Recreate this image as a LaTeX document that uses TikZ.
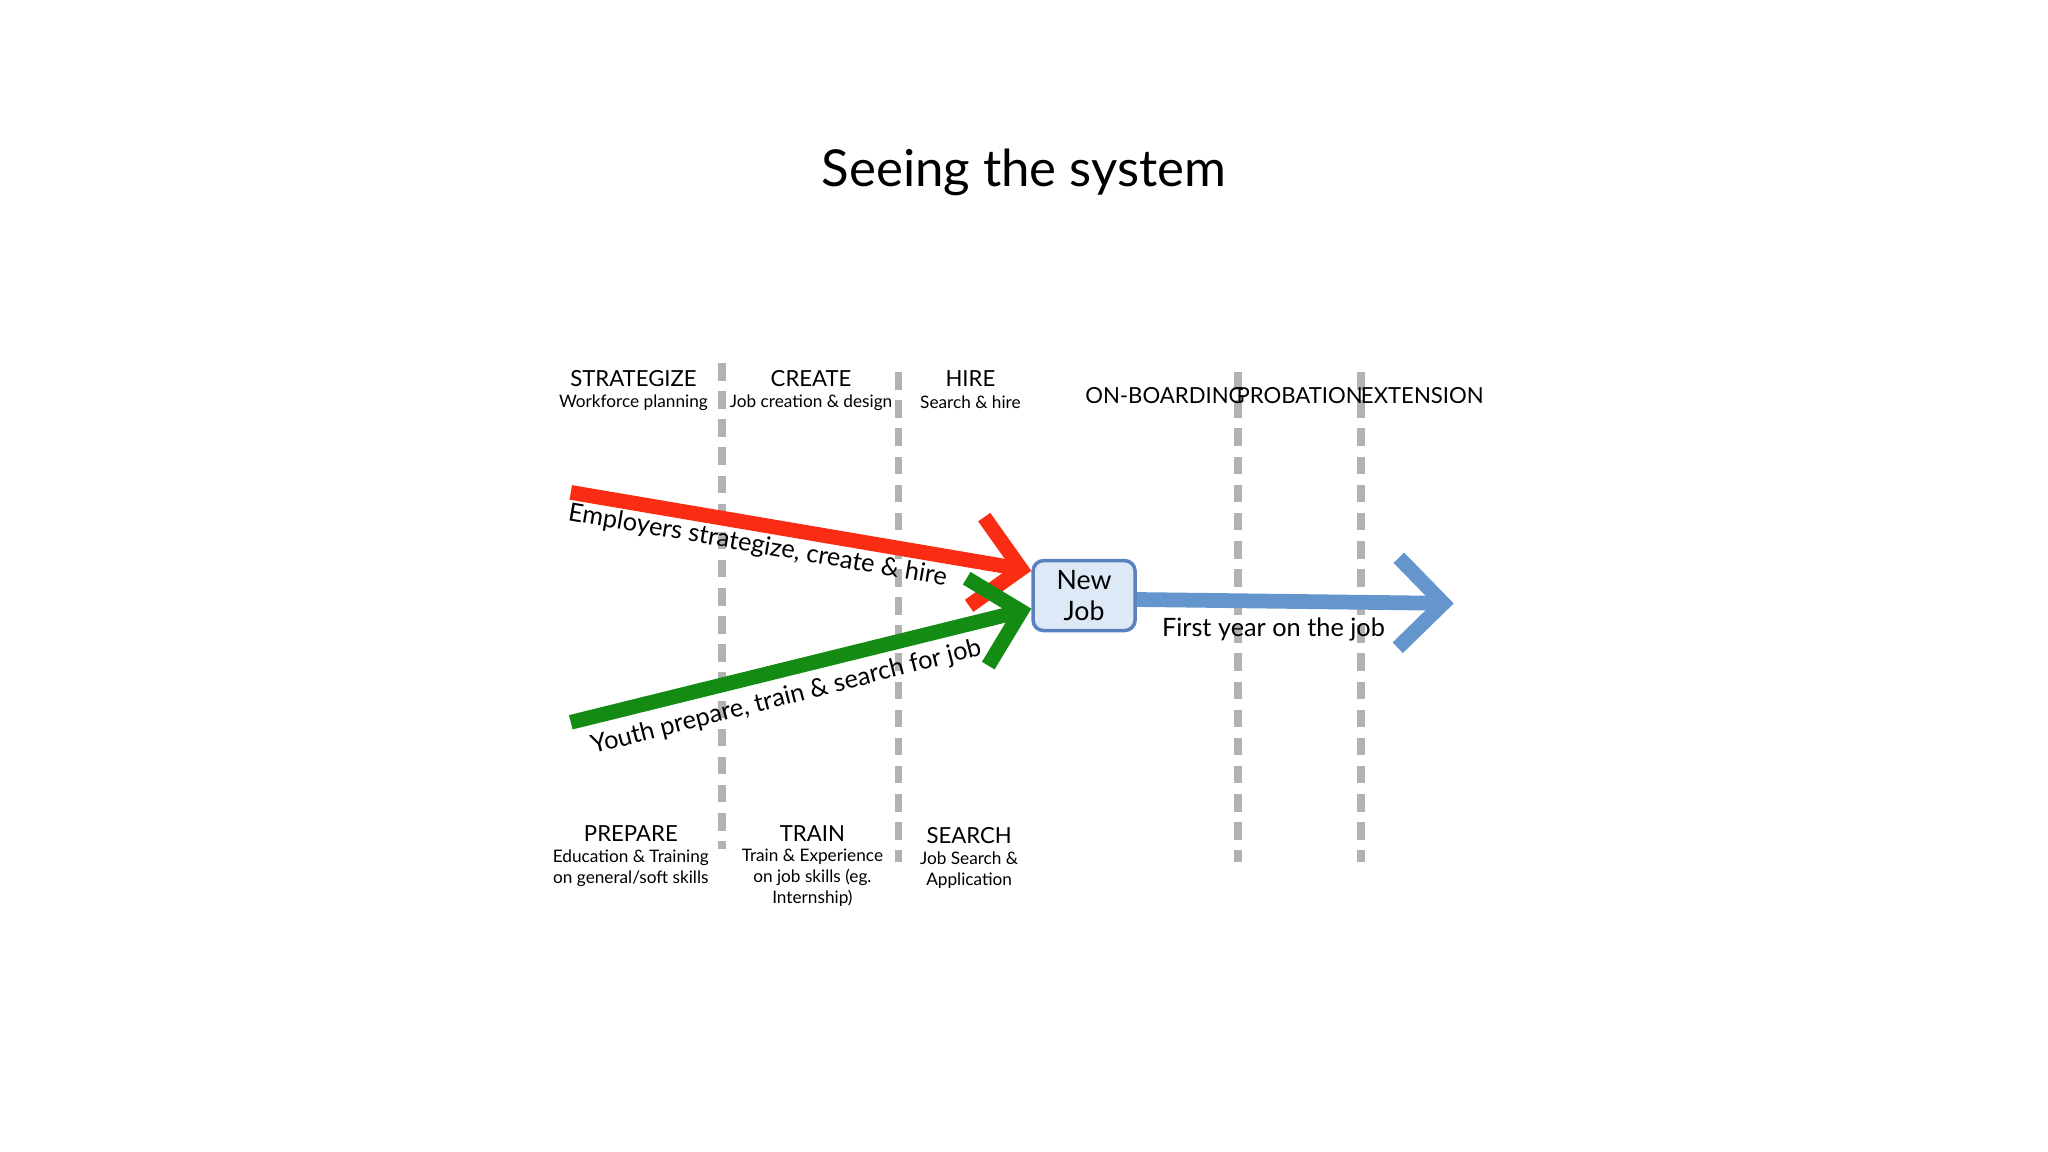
\documentclass[tikz,border=0pt]{standalone}
\usepackage{fontspec}
\setmainfont{Lato}
\usetikzlibrary{arrows.meta}
\definecolor{myred}{RGB}{250,45,20}
\definecolor{mygreen}{RGB}{20,140,20}
\definecolor{myblue}{RGB}{100,150,205}
\definecolor{boxfill}{RGB}{222,233,247}
\definecolor{boxline}{RGB}{90,130,190}
\begin{document}
\begin{tikzpicture}[x=0.01306cm,y=-0.01306cm,
  vdash/.style={gray!60,line width=2.2pt,dash pattern=on 5pt off 3pt},
  big/.style={font=\fontsize{6.3}{7}\selectfont,inner sep=0pt},
  small/.style={font=\fontsize{4.9}{5.9}\selectfont,inner sep=0pt,align=center},
  arr/.style={line width=4.2pt,-{Straight Barb[length=4.5mm,width=9mm]}},
  lab/.style={font=\fontsize{7.2}{8}\selectfont,inner sep=0pt}]
\useasboundingbox (0,0) rectangle (1568,882);
\node[font=\fontsize{14.5}{16}\selectfont] (title) at (784,132) {Seeing the system};
\draw[vdash] (553,278) -- (553,650);
\draw[vdash] (688,285) -- (688,660);
\draw[vdash] (948,285) -- (948,660);
\draw[vdash] (1042,285) -- (1042,660);
\node[big] (s1) at (485,290) {STRATEGIZE};
\node[small] (s2) at (485,308) {Workforce planning};
\node[big] (c1) at (621,290) {CREATE};
\node[small] (c2) at (621,308) {Job creation \& design};
\node[big] (h1) at (743,290) {HIRE};
\node[small] (h2) at (743,308) {Search \& hire};
\node[big] (o1) at (892,303) {ON-BOARDING};
\node[big] (p1) at (995,303) {PROBATION};
\node[big] (e1) at (1089,303) {EXTENSION};
\node[big] (pr1) at (483,638) {PREPARE};
\node[small] (pr2) at (483,665) {Education \& Training\\on general/soft skills};
\node[big] (t1) at (622,638) {TRAIN};
\node[small] (t2) at (622,672) {Train \& Experience\\on job skills (eg.\\Internship)};
\node[big] (se1) at (742,640) {SEARCH};
\node[small] (se2) at (742,666) {Job Search \&\\Application};
\node[draw=boxline,line width=1pt,fill=boxfill,rounded corners=3pt,
  text width=0.95cm,minimum height=0.7cm,align=center,font=\fontsize{7.6}{9}\selectfont,inner sep=1pt] (job) at (830,456) {New\\Job};
\coordinate (rs) at (437,377);
\coordinate (gs) at (437,553);
\coordinate (be) at (1113,462);
\draw[arr,myred] (rs) -- (job.west |- 0,437);
\draw[arr,mygreen] (gs) -- (job.west |- 0,466);
\draw[arr,myblue] (job.east |- 0,459) -- (be);
\node[lab,rotate=-9.8] (rl) at (580,418) {Employers strategize, create \& hire};
\node[lab,rotate=14.3] (gl) at (602,534) {Youth prepare, train \& search for job};
\node[lab] (bl) at (975,482) {First year on the job};
\end{tikzpicture}
\end{document}
